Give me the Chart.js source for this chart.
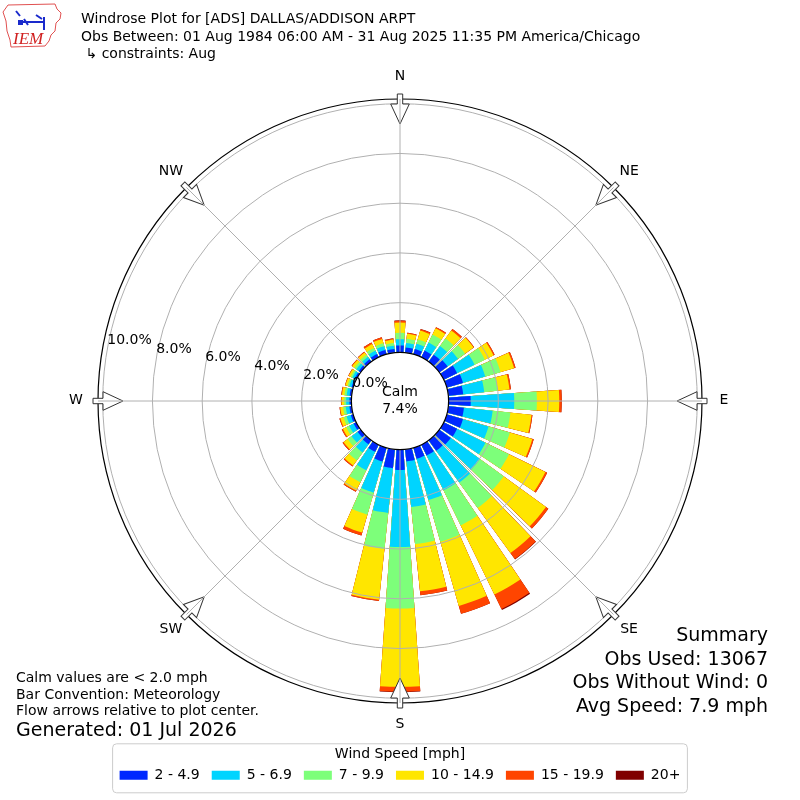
<!DOCTYPE html>
<html>
<head>
<meta charset="utf-8">
<script src="https://cdn.jsdelivr.net/npm/chart.js@4.4.1/dist/chart.umd.min.js"></script>
<style>
  body { margin: 0; background: #fff; font-family: "DejaVu Sans", sans-serif; color: #000; }
  #wrap { position: relative; width: 800px; height: 800px; overflow: hidden; }
  #rose { position: absolute; left: 0; top: 0; }
  .txt { position: absolute; white-space: pre; }
</style>
</head>
<body>
<div id="wrap">
  <canvas id="rose" width="800" height="800"></canvas>
  <svg style="position:absolute;left:0;top:0" width="64" height="52">
    <path d="M8,5 L55,4 L57,9 L61,13 L60,19 L56,23 L55,31 L51,35 L49,41 L45,46 L11,47 L10,40 L7,31 L6,21 L3,12 Z"
          fill="none" stroke="#e05050" stroke-width="1"/>
    <path d="M16,11 L20,16 M20,22 L44,22 M44,17 L44,30 M24,19 L28,25 M36,15 L42,19" stroke="#1a2acc" stroke-width="2" fill="none"/>
    <rect x="18" y="20" width="5" height="5" fill="#1a2acc"/>
    <text x="13" y="44" font-family="Liberation Serif" font-style="italic" font-size="17" fill="#d02020">IEM</text>
  </svg>
  <div class="txt" style="left:81px;top:10px;font-size:14px;line-height:17.5px">Windrose Plot for [ADS] DALLAS/ADDISON ARPT
Obs Between: 01 Aug 1984 06:00 AM - 31 Aug 2025 11:35 PM America/Chicago
 ↳ constraints: Aug</div>
  <div class="txt" style="left:16px;top:669px;font-size:14px;line-height:16.5px">Calm values are &lt; 2.0 mph
Bar Convention: Meteorology
Flow arrows relative to plot center.</div>
  <div class="txt" style="left:16px;top:718px;font-size:19px;line-height:22px">Generated: 01 Jul 2026</div>
  <div class="txt" style="right:32px;top:623px;font-size:19px;line-height:23.5px;text-align:right">Summary
Obs Used: 13067
Obs Without Wind: 0
Avg Speed: 7.9 mph</div>
</div>
<script>
// wind direction of each bar (degrees, meteorological)
const directions = [0, 10, 20, 30, 40, 50, 60, 70, 80, 90, 100, 110, 120, 130, 140, 150, 160, 170,
  180, 190, 200, 210, 220, 230, 240, 250, 260, 270, 280, 290, 300, 310, 320, 330, 340, 350];
const compass_points = ["N", "NE", "E", "SE", "S", "SW", "W", "NW"];

const speed_bins = ["2 - 4.9", "5 - 6.9", "7 - 9.9", "10 - 14.9", "15 - 19.9", "20+"];
const bin_colors = ["#0028ff", "#00d4ff", "#7dff7a", "#ffe600", "#ff4500", "#800000"];

// frequency (% of obs) per direction for each speed bin
const freq_2 = [0.28, 0.21, 0.22, 0.30, 0.35, 0.41, 0.60, 0.68, 0.60, 0.89, 0.63, 0.68, 0.60, 0.57, 0.52, 0.48, 0.46, 0.49,
  0.82, 0.76, 0.58, 0.32, 0.20, 0.15, 0.12, 0.10, 0.09, 0.08, 0.08, 0.07, 0.08, 0.10, 0.12, 0.15, 0.18, 0.15];
const freq_5 = [0.25, 0.18, 0.22, 0.36, 0.43, 0.52, 0.78, 0.93, 0.85, 1.75, 1.16, 1.07, 1.27, 1.45, 1.58, 1.56, 1.73, 1.84,
  3.10, 1.81, 1.30, 0.82, 0.40, 0.30, 0.20, 0.18, 0.15, 0.13, 0.12, 0.10, 0.10, 0.12, 0.12, 0.15, 0.16, 0.13];
const freq_7 = [0.26, 0.17, 0.18, 0.36, 0.37, 0.35, 0.46, 0.64, 0.55, 0.91, 0.72, 0.89, 1.05, 1.18, 1.26, 1.57, 1.74, 1.50,
  2.47, 1.46, 0.92, 0.54, 0.40, 0.20, 0.13, 0.12, 0.10, 0.08, 0.09, 0.07, 0.07, 0.09, 0.10, 0.12, 0.12, 0.11];
const freq_10 = [0.41, 0.20, 0.37, 0.28, 0.40, 0.42, 0.39, 0.57, 0.47, 0.90, 0.85, 0.94, 1.63, 2.10, 2.24, 3.09, 2.69, 1.91,
  3.15, 2.05, 0.75, 0.37, 0.25, 0.20, 0.15, 0.14, 0.12, 0.10, 0.10, 0.09, 0.09, 0.11, 0.12, 0.17, 0.18, 0.14];
const freq_15 = [0.07, 0.04, 0.06, 0.05, 0.08, 0.03, 0.05, 0.06, 0.06, 0.10, 0.04, 0.06, 0.08, 0.12, 0.30, 0.65, 0.33, 0.16,
  0.20, 0.05, 0.12, 0.05, 0.05, 0.05, 0.05, 0.04, 0.03, 0.03, 0.03, 0.02, 0.02, 0.03, 0.03, 0.07, 0.07, 0.04];
const freq_20 = [0.02, 0, 0.01, 0, 0, 0, 0, 0, 0, 0, 0, 0, 0, 0, 0.02, 0.05, 0, 0,
  0.02, 0, 0, 0, 0, 0, 0, 0, 0, 0, 0, 0, 0, 0, 0, 0, 0, 0.01];

const calm_pct = 7.4;
const ring_values = [0, 2, 4, 6, 8, 10];

// layout of the rose
const bar_deg = 8, gap_deg = 2;
const r_min = -1.955, r_max = 10.19;
const font_family = '"DejaVu Sans", sans-serif';

Chart.defaults.font.family = font_family;
Chart.defaults.color = "#000";

// stack the bins: each dataset holds the running total, drawn largest first
const bin_values = [freq_2, freq_5, freq_7, freq_10, freq_15, freq_20];
const cumulative = bin_values.map((_, b) =>
  directions.map((_, i) => bin_values.slice(0, b + 1).reduce((s, arr) => s + arr[i], 0))
);

// every bar is followed by an empty slot that makes the gap
const labels = directions.flatMap((d) => [d + "°", ""]);
const datasets = speed_bins.map((name, b) => ({
  label: name,
  data: cumulative[b].flatMap((v) => [v, r_min]),
  backgroundColor: bin_colors[b],
  borderWidth: 0,
  angle: (c) => (c.dataIndex % 2 === 0 ? bar_deg : gap_deg),
}));

const rose_overlay = {
  id: "rose_overlay",
  afterDraw(chart) {
    const ctx = chart.ctx;
    const scale = chart.scales.r;
    const cx = scale.xCenter, cy = scale.yCenter, R = scale.drawingArea;
    const at = (deg, r) => {
      const a = ((deg - 90) * Math.PI) / 180;
      return [cx + r * Math.cos(a), cy + r * Math.sin(a)];
    };
    ctx.save();

    // outer frame
    ctx.strokeStyle = "#000";
    ctx.lineWidth = 1.2;
    ctx.beginPath();
    ctx.arc(cx, cy, R, 0, Math.PI * 2);
    ctx.stroke();

    // flow arrows
    compass_points.forEach((name, k) => {
      ctx.save();
      ctx.translate(cx, cy);
      ctx.rotate(((k * 45 - 90) * Math.PI) / 180);
      ctx.beginPath();
      ctx.moveTo(R + 5, -2.7);
      ctx.lineTo(R - 5, -2.7);
      ctx.lineTo(R - 5, -9.3);
      ctx.lineTo(R - 25, 0);
      ctx.lineTo(R - 5, 9.3);
      ctx.lineTo(R - 5, 2.7);
      ctx.lineTo(R + 5, 2.7);
      ctx.closePath();
      ctx.fillStyle = "#fff";
      ctx.fill();
      ctx.strokeStyle = "#333";
      ctx.lineWidth = 1;
      ctx.stroke();
      ctx.restore();
    });

    // spokes
    ctx.strokeStyle = "#b0b0b0";
    ctx.lineWidth = 1;
    compass_points.forEach((name, k) => {
      const [x, y] = at(k * 45, R);
      ctx.beginPath();
      ctx.moveTo(cx, cy);
      ctx.lineTo(x, y);
      ctx.stroke();
    });

    // calm circle
    const r0 = scale.getDistanceFromCenterForValue(0);
    ctx.beginPath();
    ctx.arc(cx, cy, r0, 0, Math.PI * 2);
    ctx.fillStyle = "#fff";
    ctx.fill();
    ctx.strokeStyle = "#000";
    ctx.lineWidth = 1.2;
    ctx.stroke();

    ctx.fillStyle = "#000";
    ctx.font = "14px " + font_family;
    ctx.textAlign = "center";
    ctx.textBaseline = "middle";
    ctx.fillText("Calm", cx, cy - 9);
    ctx.fillText(calm_pct.toFixed(1) + "%", cx, cy + 8);

    // compass names
    compass_points.forEach((name, k) => {
      const [x, y] = at(k * 45, R + 22);
      ctx.fillText(name, x, y - 1);
    });

    // ring labels
    ctx.textAlign = "left";
    ring_values.forEach((v) => {
      const [x, y] = at(280, scale.getDistanceFromCenterForValue(v));
      ctx.fillText(v.toFixed(1) + "%", x, y - 9);
    });

    // legend frame
    const lg = chart.legend;
    const hb = lg.legendHitBoxes;
    if (hb && hb.length) {
      const last = hb[hb.length - 1];
      const left = hb[0].left - 7, right = last.left + last.width + 7;
      const top = lg.top + 39, bottom = lg.top + 88;
      ctx.beginPath();
      ctx.roundRect(left, top, right - left, bottom - top, 4);
      ctx.strokeStyle = "#cccccc";
      ctx.lineWidth = 1;
      ctx.stroke();
    }
    ctx.restore();
  },
};

new Chart(document.getElementById("rose"), {
  type: "polarArea",
  data: { labels: labels, datasets: datasets },
  options: {
    responsive: false,
    animation: false,
    events: [],
    layout: { padding: { top: 98, left: 98, right: 98, bottom: 7.8 } },
    scales: {
      r: {
        type: "radialLinear",
        min: r_min,
        max: r_max,
        startAngle: -bar_deg / 2,
        z: 1,
        grid: { circular: true, color: "#b0b0b0", lineWidth: 1, z: 1 },
        angleLines: { display: false },
        pointLabels: { display: false },
        ticks: { display: false },
        afterBuildTicks: (axis) => {
          axis.ticks = ring_values.map((v) => ({ value: v }));
        },
      },
    },
    plugins: {
      tooltip: { enabled: false },
      legend: {
        position: "bottom",
        onClick: null,
        title: {
          display: true,
          text: "Wind Speed [mph]",
          color: "#000",
          font: { size: 14, lineHeight: 0.6 },
          padding: { top: 43, bottom: 0 },
        },
        labels: {
          color: "#000",
          font: { size: 14 },
          boxWidth: 28,
          boxHeight: 9,
          padding: 12,
          generateLabels: (chart) =>
            chart.data.datasets.map((ds, i) => ({
              text: ds.label,
              fillStyle: ds.backgroundColor,
              strokeStyle: ds.backgroundColor,
              lineWidth: 0,
              hidden: false,
              datasetIndex: i,
            })),
        },
      },
    },
  },
  plugins: [rose_overlay],
});
</script>
</body>
</html>
